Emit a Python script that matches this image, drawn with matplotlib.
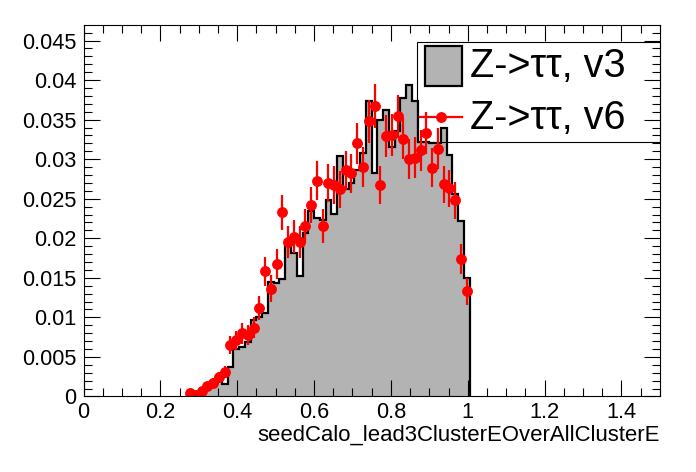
import numpy as np
import matplotlib
matplotlib.use("Agg")
import matplotlib.pyplot as plt
from matplotlib.ticker import MultipleLocator, FuncFormatter
from matplotlib.patches import Rectangle
from matplotlib.lines import Line2D

plt.rcParams['font.family'] = ['Liberation Sans', 'DejaVu Sans']

# histogram binning: 100 bins on [0, 1.5], only the filled part is listed
bin_lo = 0.27
bin_width = 0.015

# Z->tautau, v3 (filled histogram), one value per bin starting at 0.27
v3 = [0.0003, 0.0004, 0.0006, 0.0010, 0.0015, 0.0024, 0.0016, 0.0037,
      0.0060, 0.0063, 0.0069, 0.0097, 0.0101, 0.0105, 0.0145, 0.0143,
      0.0149, 0.0193, 0.0181, 0.0152, 0.0207, 0.0234, 0.0226, 0.0223,
      0.0249, 0.0231, 0.0304, 0.0262, 0.0270, 0.0286, 0.0308, 0.0373,
      0.0282, 0.0350, 0.0362, 0.0316, 0.0335, 0.0377, 0.0394, 0.0374,
      0.0322, 0.0322, 0.0321, 0.0321, 0.0339, 0.0305, 0.0256, 0.0222,
      0.0150]

# Z->tautau, v6 (points with errors), same bins
v6 = [0.0005, 0.0002, 0.0007, 0.0013, 0.0017, 0.0024, 0.0031, 0.0065,
      0.0071, 0.0080, 0.0078, 0.0087, 0.0112, 0.0158, 0.0136, 0.0167,
      0.0233, 0.0195, 0.0202, 0.0195, 0.0215, 0.0242, 0.0273, 0.0215,
      0.0270, 0.0267, 0.0262, 0.0286, 0.0282, 0.0320, 0.0290, 0.0348,
      0.0367, 0.0267, 0.0329, 0.0330, 0.0354, 0.0326, 0.0300, 0.0302,
      0.0311, 0.0333, 0.0289, 0.0313, 0.0268, 0.0263, 0.0248, 0.0174,
      0.0133]
v6_err = [0.00033, 0.00021, 0.00039, 0.00053, 0.00060, 0.00072, 0.00081, 0.00118,
          0.00123, 0.00131, 0.00129, 0.00136, 0.00155, 0.00184, 0.00170, 0.00189,
          0.00223, 0.00204, 0.00207, 0.00204, 0.00214, 0.00227, 0.00241, 0.00214,
          0.00240, 0.00239, 0.00236, 0.00247, 0.00245, 0.00261, 0.00249, 0.00272,
          0.00280, 0.00239, 0.00265, 0.00265, 0.00275, 0.00264, 0.00253, 0.00254,
          0.00258, 0.00266, 0.00248, 0.00258, 0.00239, 0.00237, 0.00230, 0.00193,
          0.00168]

edges = bin_lo + bin_width * np.arange(len(v3) + 1)
centers = edges[:-1] + bin_width / 2

fig = plt.figure(figsize=(6.96, 4.72), dpi=100)
ax = fig.add_axes([0.12, 0.16, 0.828, 0.787])

ax.stairs(v3, edges, fill=True, color='#b3b3b3', linewidth=0)
ax.stairs(v3, edges, color='black', linewidth=1.6)
ax.errorbar(centers, v6, yerr=v6_err, fmt='o', color='red', ms=6.8,
            elinewidth=1.6, capsize=0)

ax.set_xlim(0, 1.5)
ax.set_ylim(0, 0.04696)
ax.xaxis.set_major_locator(MultipleLocator(0.2))
ax.xaxis.set_minor_locator(MultipleLocator(0.05))
ax.yaxis.set_major_locator(MultipleLocator(0.005))
ax.yaxis.set_minor_locator(MultipleLocator(0.001))
fmt = FuncFormatter(lambda v, p: '%g' % round(v, 6))
ax.xaxis.set_major_formatter(fmt)
ax.yaxis.set_major_formatter(fmt)
ax.tick_params(which='both', direction='in', top=True, right=True,
               labelsize=15.7, width=0.8)
ax.tick_params(which='major', length=11.5)
ax.tick_params(which='minor', length=5.8)
ax.tick_params(axis='x', pad=4)
ax.tick_params(axis='y', pad=5)
for s in ax.spines.values():
    s.set_linewidth(0.8)

ax.set_xlabel('seedCalo_lead3ClusterEOverAllClusterE', fontsize=15.9, loc='right')
ax.xaxis.set_label_coords(1.0, -0.075)

# legend box (transparent, ROOT-like)
ax.add_patch(Rectangle((0.5785, 0.685), 0.4215, 0.269, transform=ax.transAxes,
                       fill=False, edgecolor='black', linewidth=0.8, clip_on=False))
ax.add_patch(Rectangle((0.592, 0.836), 0.064, 0.107, transform=ax.transAxes,
                       facecolor='#b3b3b3', edgecolor='black', linewidth=1.6))
ax.text(0.671, 0.889, 'Z->ττ, v3', transform=ax.transAxes, fontsize=28.5,
        va='center', ha='left')
ax.add_line(Line2D([0.584, 0.656], [0.752, 0.752], transform=ax.transAxes,
                   color='red', linewidth=1.6))
ax.add_line(Line2D([0.62], [0.752], transform=ax.transAxes, color='red',
                   marker='o', ms=6.8))
ax.text(0.671, 0.75, 'Z->ττ, v6', transform=ax.transAxes, fontsize=28.5,
        va='center', ha='left')

fig.savefig('out.png', dpi=100)
